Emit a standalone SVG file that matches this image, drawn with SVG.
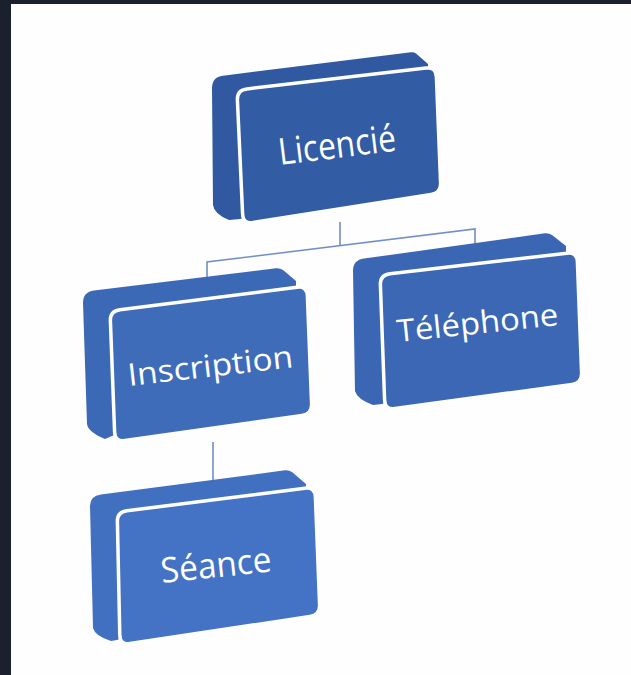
<svg xmlns="http://www.w3.org/2000/svg" width="631" height="675" viewBox="0 0 631 675">
<style>
.face{stroke:#ffffff;stroke-width:3.5;stroke-linejoin:round}
.lbl{font-family:"Open Sans","Liberation Sans",sans-serif;fill:#ffffff}
.conn{fill:none;stroke:#6f8fc8;stroke-width:1.6}
</style>
<rect x="0" y="0" width="631" height="675" fill="#1b212c"/>
<rect x="11" y="4" width="620" height="671" fill="#fefefe"/>
<g id="connectors">
<path class="conn" d="M340,222 L340,245.6"/>
<path class="conn" d="M207,290 L207,262 L475,229 L475,255"/>
<path class="conn" d="M213,442 L213,499"/>
</g>
<g id="licencie">
<path fill="#3059a2" d="M212,88 Q212,77 223,75.7 L411,52.3 Q414,52 416,53.5 L428,64 L428,80 L420,190 L255,215 L240,219 L229,220 Q214,214 213,205 Z"/>
<path class="face" fill="#325ca4" d="M237.4,100 Q237,90 247,88.9 L426,68.1 Q436,67 436.4,77 L440.6,183 Q441,193 431.1,194.6 L252.9,222.5 Q243,224 242.6,214 Z"/>
<text class="lbl" x="280" y="165" font-size="37" textLength="118" lengthAdjust="spacingAndGlyphs" transform="rotate(-7 280 165)">Licencié</text>
</g>
<g id="inscription">
<path fill="#3c69b6" d="M83,303 Q83,292 94,290.6 L276,268.3 Q280,268 283,270 L296,281 L296,300 L300,400 L125,430 L112,436 L105,439 Q88,432 87,424 Z"/>
<path class="face" fill="#3e6cb9" d="M110.4,321 Q110,311 120,309.8 L297,287.2 Q307,286 307.4,296 L311.6,404 Q312,414 302,415.4 L125,440.6 Q115,442 114.6,432 Z"/>
<text class="lbl" x="129" y="386" font-size="31" textLength="166" lengthAdjust="spacingAndGlyphs" transform="rotate(-6.5 129 386)">Inscription</text>
</g>
<g id="telephone">
<path fill="#3a66b3" d="M353,271 Q353,260 364,258.6 L545,233.3 Q549,233 552,235 L566,246 L566,265 L570,375 L395,400 L382,404 L373,405 Q357,399 355,391 Z"/>
<path class="face" fill="#3b67b4" d="M380.4,285 Q380,275 390,273.8 L567,253.2 Q577,252 577.4,262 L581.6,373 Q582,383 572,384.4 L395,408.6 Q385,410 384.6,400 Z"/>
<text class="lbl" x="398" y="342" font-size="31" textLength="162" lengthAdjust="spacingAndGlyphs" transform="rotate(-6 398 342)">Téléphone</text>
</g>
<g id="seance">
<path fill="#4270c0" d="M90,506 Q90,496 101,494.6 L285,470.3 Q289,470 292,472 L306,484 L306,500 L310,605 L130,635 L117,640 L111,641 Q95,636 93,628 Z"/>
<path class="face" fill="#4472c4" d="M117.4,522 Q117,512 127,510.8 L305,488.2 Q315,487 315.4,497 L319.6,605 Q320,615 310,616.5 L130,643.5 Q120,645 119.8,635 Z"/>
<text class="lbl" x="162" y="583" font-size="35" textLength="111" lengthAdjust="spacingAndGlyphs" transform="rotate(-6 162 583)">Séance</text>
</g>
</svg>
